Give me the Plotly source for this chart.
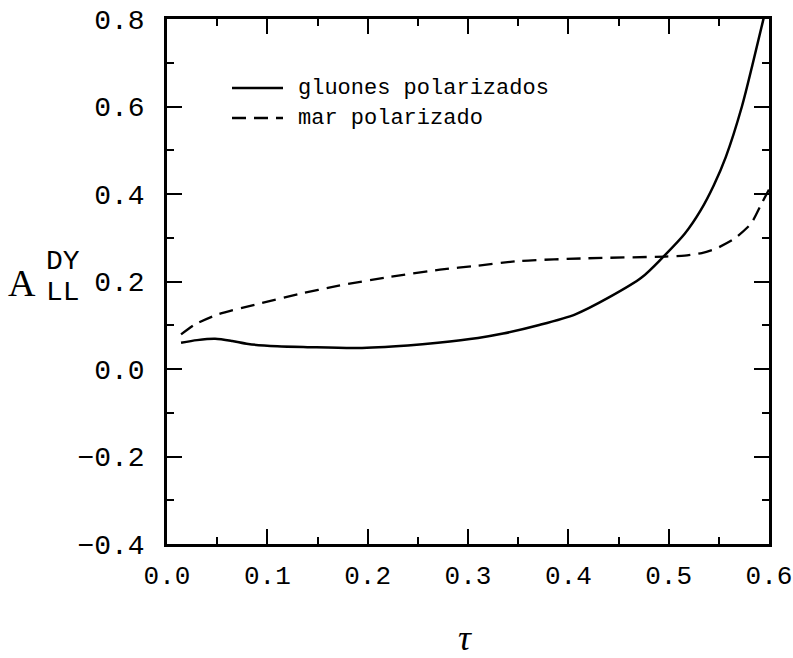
import plotly.graph_objects as go

# Data
tau_gluon = [0.014, 0.03, 0.048, 0.065, 0.081, 0.11, 0.14, 0.19, 0.24, 0.27, 0.31,
             0.335, 0.37, 0.407, 0.44, 0.473, 0.494, 0.516, 0.532, 0.545, 0.557,
             0.573, 0.584, 0.595]
a_gluon = [0.060, 0.066, 0.069, 0.064, 0.057, 0.052, 0.050, 0.048, 0.054, 0.060, 0.071,
           0.081, 0.100, 0.125, 0.163, 0.209, 0.255, 0.309, 0.363, 0.420, 0.485,
           0.600, 0.700, 0.805]

tau_sea = [0.014, 0.028, 0.051, 0.091, 0.131, 0.170, 0.223, 0.272, 0.309, 0.352, 0.418,
           0.497, 0.516, 0.533, 0.546, 0.565, 0.582, 0.593, 0.6]
a_sea = [0.079, 0.102, 0.125, 0.149, 0.171, 0.190, 0.211, 0.227, 0.236, 0.247, 0.253,
         0.257, 0.259, 0.265, 0.274, 0.297, 0.332, 0.380, 0.41]

x_ticks = [0.0, 0.1, 0.2, 0.3, 0.4, 0.5, 0.6]
y_ticks = [-0.4, -0.2, 0.0, 0.2, 0.4, 0.6, 0.8]
legend_names = ["gluones polarizados", "mar polarizado"]

FONT = "Liberation Mono"
W, H = 793, 658
L, R, T, B = 167, 24, 19, 114
pw, ph = W - L - R, H - T - B

def px(x):
    return (x - L) / pw

def py(y):
    return (H - B - y) / ph

fig = go.Figure()
fig.add_trace(go.Scatter(x=tau_gluon, y=a_gluon, mode="lines", name=legend_names[0],
                         line=dict(color="black", width=2.5, shape="spline", smoothing=0.8)))
fig.add_trace(go.Scatter(x=tau_sea, y=a_sea, mode="lines", name=legend_names[1],
                         line=dict(color="black", width=2.3, dash="14px,8px", shape="spline", smoothing=0.6)))

axis_common = dict(showline=True, linecolor="black", linewidth=2.5, mirror="allticks",
                   ticks="inside", ticklen=15, tickwidth=2, tickcolor="black",
                   showgrid=False, zeroline=False, ticklabeloverflow="allow",
                   automargin=False)

fig.update_xaxes(range=[0, 0.6], tickvals=x_ticks, ticktext=[f"{v:.1f}" for v in x_ticks],
                 minor=dict(dtick=0.05, ticks="inside", ticklen=7, tickwidth=2, tickcolor="black"),
                 ticklabelstandoff=6, tickfont=dict(family=FONT, size=26, color="black"),
                 **axis_common)
fig.update_yaxes(range=[-0.4, 0.8], tickvals=y_ticks,
                 ticktext=[f"{v:.1f}".replace("-", "\u2212") for v in y_ticks],
                 minor=dict(dtick=0.1, ticks="inside", ticklen=7, tickwidth=2, tickcolor="black"),
                 ticklabelstandoff=14, tickfont=dict(family=FONT, size=28, color="black"),
                 **axis_common)

annotations = [
    dict(text="A", x=px(22), y=py(283), font=dict(family="Liberation Serif", size=38, color="black")),
    dict(text="DY", x=px(63), y=py(261), font=dict(family=FONT, size=28, color="black")),
    dict(text="LL", x=px(63), y=py(292), font=dict(family=FONT, size=28, color="black")),
    dict(text="<i>τ</i>", x=px(465), y=py(638), font=dict(family="Liberation Serif", size=36, color="black")),
]
for a in annotations:
    a.update(xanchor="center")

# Manual legend (line samples + labels)
legend_rows = [88, 118]
dashes = ["solid", "14px,8px"]
shapes = []
for name, row, dsh in zip(legend_names, legend_rows, dashes):
    shapes.append(dict(type="line", xref="paper", yref="paper",
                       x0=px(232), x1=px(283), y0=py(row), y1=py(row),
                       line=dict(color="black", width=2.5, dash=dsh)))
    annotations.append(dict(text=name, x=px(296), y=py(row), xanchor="left",
                            font=dict(family=FONT, size=22, color="black")))

for a in annotations:
    a.update(xref="paper", yref="paper", showarrow=False, yanchor="middle")

fig.update_layout(
    width=W, height=H,
    margin=dict(l=L, r=R, t=T, b=B, autoexpand=False),
    plot_bgcolor="white", paper_bgcolor="white",
    annotations=annotations,
    shapes=shapes,
    showlegend=False,
)

fig.write_html("out.html")
